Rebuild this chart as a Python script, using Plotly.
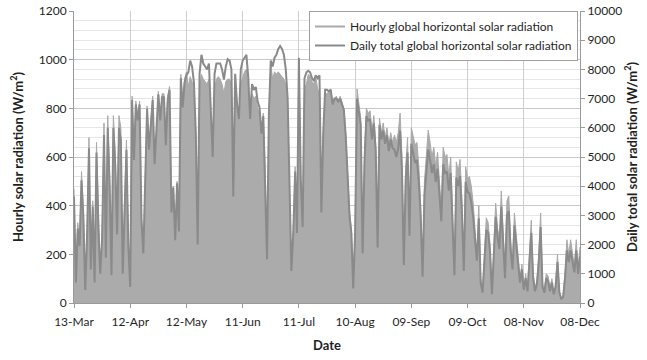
import pandas as pd
import plotly.graph_objects as go

START_DATE = "2013-03-13"

# Daily peak of the hourly global horizontal solar radiation (W/m2), 13-Mar .. 08-Dec
hourly_peak = [
    470, 90, 330, 250, 540, 380, 60, 300, 680, 150, 420, 90, 660, 330, 130, 280, 740, 200, 770, 520,
    120, 770, 610, 300, 770, 720, 130, 420, 670, 250, 70,
    850, 600, 830, 760, 830, 350, 210, 520, 810, 640, 730, 850, 580, 700, 870, 760, 860, 860, 660,
    850, 890, 380, 480, 260, 500, 300, 940, 820, 920, 950,
    890, 930, 910, 850, 700, 240, 880, 940, 920, 910, 900, 920, 760, 600, 880, 920, 930, 920, 900,
    860, 910, 920, 920, 900, 440, 880, 820, 760, 900, 930,
    950, 960, 870, 760, 860, 840, 850, 800, 780, 700, 780, 560, 190, 780, 980, 920, 950, 940, 950,
    940, 930, 920, 900, 820, 460, 130, 300, 560, 300, 1000,
    520, 320, 880, 900, 940, 930, 910, 900, 930, 880, 860, 380, 700, 860, 860, 870, 880, 820, 840,
    850, 830, 850, 820, 800, 700, 560, 380, 300, 70, 300,
    880, 820, 760, 220, 600, 800, 780, 790, 700, 770, 650, 240, 760, 700, 740, 680, 720, 650, 700,
    660, 690, 660, 700, 780, 600, 170, 560, 680, 300, 720,
    690, 650, 660, 560, 400, 120, 500, 600, 710, 660, 600, 640, 560, 620, 480, 380, 640, 600, 610,
    520, 600, 320, 130, 580, 540, 590, 420, 150, 560, 510,
    520, 480, 410, 300, 200, 400, 100, 50, 180, 350, 330, 240, 40, 200, 410, 310, 260, 460, 300,
    120, 420, 440, 250, 160, 370, 280, 200, 100, 160, 60,
    120, 60, 200, 340, 120, 60, 90, 200, 370, 80, 50, 120, 110, 60, 100, 40, 80, 200, 50,
    20, 30, 120, 260, 200, 260, 210, 150, 260, 140, 230,
]

# Daily total global horizontal solar radiation (W/m2), same days
daily_total = [
    3650, 700, 2550, 1950, 4200, 2950, 450, 2350, 5300, 1150, 3300, 700, 5150, 2550, 1000, 2200, 5750, 1550, 6000, 4050,
    950, 6000, 4750, 2350, 6000, 5600, 1000, 3300, 5250, 1950, 550,
    6950, 4900, 6800, 6250, 6800, 2850, 1700, 4250, 6650, 5250, 6000, 6950, 4750, 5750, 7150, 6250, 7050, 7050, 5400,
    6950, 7300, 3100, 3950, 2150, 4100, 2450, 7700, 6700, 7550, 7800,
    7900, 8300, 8100, 7550, 5800, 2000, 7850, 8500, 8200, 8100, 8000, 8200, 6300, 5000, 7850, 8200, 8200, 8200, 8000,
    7650, 8100, 8350, 8300, 8000, 3650, 7850, 6800, 6300, 8000, 8300,
    8400, 8500, 7700, 6300, 7500, 7300, 7400, 6900, 6700, 5800, 6400, 4300, 1500, 6500, 8300, 8100, 8400, 8500, 8700,
    8800, 8700, 8500, 8000, 7000, 3700, 1100, 2400, 4500, 2400, 8400,
    4200, 2600, 7700, 7900, 7950, 7900, 7700, 7600, 7800, 7700, 7800, 3100, 5800, 7300, 7300, 7250, 7300, 6800, 7000,
    7000, 6900, 7000, 6800, 6600, 5700, 4500, 3000, 2400, 500, 2400,
    7000, 6550, 6100, 1700, 4800, 6400, 6250, 6300, 5600, 6150, 5200, 1900, 6100, 5600, 5900, 5450, 5750, 5200, 5600,
    5300, 5250, 5000, 5300, 5900, 4550, 1300, 4250, 5150, 2300, 5450,
    5100, 4800, 4900, 4150, 2950, 900, 3700, 4450, 5250, 4900, 4450, 4750, 4150, 4600, 3550, 2800, 4750, 4450, 4500,
    3850, 4450, 2350, 950, 4300, 4000, 4350, 3100, 1100, 4150, 3800,
    3750, 3450, 2950, 2150, 1450, 2900, 700, 350, 1300, 2500, 2400, 1750, 300, 1450, 2950, 2250, 1850, 3300, 2150,
    850, 3000, 3150, 1800, 1150, 2650, 2000, 1450, 700, 1150, 450,
    850, 400, 1400, 2400, 850, 400, 650, 1400, 2600, 550, 350, 850, 750, 400, 700, 300, 550, 1400, 350,
    150, 200, 850, 1800, 1400, 1800, 1450, 1050, 1800, 1000, 1600,
]

tick_dates = ["2013-03-13", "2013-04-12", "2013-05-12", "2013-06-11", "2013-07-11",
              "2013-08-10", "2013-09-09", "2013-10-09", "2013-11-08", "2013-12-08"]
tick_labels = ["13-Mar", "12-Apr", "12-May", "11-Jun", "11-Jul",
               "10-Aug", "09-Sep", "09-Oct", "08-Nov", "08-Dec"]

dates = pd.date_range(START_DATE, periods=len(hourly_peak), freq="D")

FONT = "Lato"
TXT = "#1f1f1f"
HOURLY_C = "#a9a9a9"
DAILY_C = "#8a8a8a"

fig = go.Figure()
fig.add_trace(go.Scatter(
    x=dates, y=hourly_peak, mode="lines", fill="tozeroy",
    line=dict(color=HOURLY_C, width=1), fillcolor="#ababab",
    showlegend=False, hoverinfo="skip"))
fig.add_trace(go.Scatter(
    x=[None], y=[None], mode="lines", line=dict(color=HOURLY_C, width=2),
    name="Hourly global horizontal solar radiation"))
fig.add_trace(go.Scatter(
    x=dates, y=daily_total, mode="lines", yaxis="y2",
    line=dict(color=DAILY_C, width=2),
    name="Daily total global horizontal solar radiation"))

fig.update_layout(
    width=647, height=360,
    margin=dict(l=74, r=67, t=11, b=57, autoexpand=False),
    paper_bgcolor="white", plot_bgcolor="white",
    font=dict(family=FONT, size=12, color=TXT),
    xaxis=dict(
        type="date", automargin=False,
        range=[tick_dates[0], tick_dates[-1]],
        tickvals=tick_dates, ticktext=tick_labels,
        showgrid=True, gridcolor="#cfcfcf", gridwidth=1,
        showline=True, linecolor="#9a9a9a", linewidth=1,
        ticks="outside", ticklen=4, tickcolor="#9a9a9a",
        ticklabelstandoff=4,
        tickfont=dict(size=12, color=TXT),
        title=dict(text="<b>Date</b>", font=dict(size=13, color=TXT), standoff=12),
        zeroline=False,
    ),
    yaxis=dict(
        range=[0, 1200], dtick=200, tick0=0, automargin=False,
        showgrid=True, gridcolor="#c8c8c8", gridwidth=1,
        minor=dict(dtick=40, showgrid=True, gridcolor="#e6e6e6", gridwidth=1),
        showline=True, linecolor="#9a9a9a", linewidth=1,
        ticks="outside", ticklen=4, tickcolor="#9a9a9a",
        tickfont=dict(size=12, color=TXT),
        title=dict(text="<b>Hourly solar radiation (W/m<sup>2</sup>)</b>",
                   font=dict(size=13, color=TXT), standoff=12),
        zeroline=False,
    ),
    yaxis2=dict(
        range=[0, 10000], dtick=1000, tick0=0, tickformat="d", automargin=False,
        overlaying="y", side="right",
        showgrid=False,
        showline=True, linecolor="#9a9a9a", linewidth=1,
        ticks="outside", ticklen=4, tickcolor="#9a9a9a",
        tickfont=dict(size=12, color=TXT),
        title=dict(text="<b>Daily total solar radiation (W/m<sup>2</sup>)</b>",
                   font=dict(size=13, color=TXT), standoff=6),
        zeroline=False,
    ),
    legend=dict(
        x=0.996, y=1.0, xanchor="right", yanchor="top",
        bgcolor="white", bordercolor="#a0a0a0", borderwidth=1,
        font=dict(size=12, color=TXT, family=FONT),
        tracegroupgap=0, itemwidth=30,
    ),
)

fig.write_html("out.html")
